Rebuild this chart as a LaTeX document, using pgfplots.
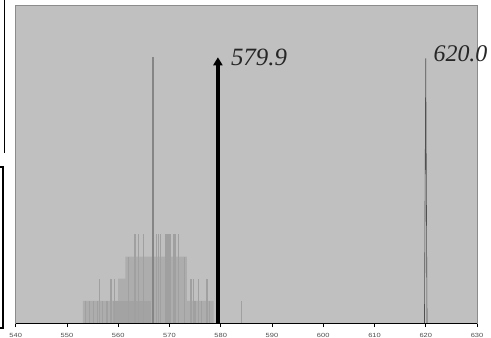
\documentclass[border=0pt]{standalone}
\usepackage{pgfplots}
\pgfplotsset{compat=1.18}
\usepackage{fontspec}
\setmainfont{Liberation Serif}
\newfontfamily\ticksans{Liberation Sans}
\usetikzlibrary{arrows.meta}
\definecolor{bgc}{HTML}{C0C0C0}
\definecolor{pyr}{HTML}{ADADAD}
\definecolor{pyrd}{HTML}{A3A3A3}
\definecolor{stk}{HTML}{A0A0A0}
\definecolor{frm}{HTML}{8C8C8C}
\begin{document}
\begin{tikzpicture}
\begin{axis}[
  at={(15.7bp,15bp)}, anchor=south west,
  scale only axis, width=461.3bp, height=318bp,
  xmin=540, xmax=630, ymin=0, ymax=14.36,
  xtick={540,550,...,630}, ytick=\empty,
  xtick pos=left, tick align=outside,
  major tick length=4bp,
  tick style={black, line width=0.6bp},
  axis line style={draw=frm, line width=0.8bp},
  axis background/.style={fill=bgc},
  xticklabel style={font=\ticksans\fontsize{6}{7}\selectfont, text=black!70, yshift=-2.5bp, xscale=1.25},
  /pgf/number format/assume math mode=true,
  clip=false,
]
% stepped pyramid
\addplot[fill=pyr, draw=none] coordinates {
  (553.1,0) (553.1,1) (560.0,1) (560.0,2) (561.4,2) (561.4,3)
  (573.4,3) (573.4,1) (578.6,1) (578.6,0)} -- cycle;
\addplot[fill=pyrd, draw=none] coordinates {
  (559.0,0) (559.0,1) (566.3,1) (566.3,0)} -- cycle;
% sticks
\addplot[ycomb, stk, line width=1.3bp, mark=none] coordinates {
  (563.3,4) (563.9,4) (564.9,4) (567.5,4) (567.9,4) (568.3,4)
  (569.3,4) (569.7,4) (570.1,4) (570.9,4) (571.2,4) (571.7,4)
  (556.3,2) (558.6,2) (559.3,2) (574.2,2) (574.7,2) (575.7,2) (577.3,2)
  (562.0,3) (572.9,3)
  (553.6,1) (554.4,1) (555.2,1) (556.0,1) (557.0,1) (557.8,1)
  (575.0,1) (576.3,1) (577.8,1) (584.0,1)};
% tall line
\addplot[color={rgb,255:red,133;green,133;blue,133}, line width=2bp] coordinates {(566.7,0) (566.7,12)};
% 620 peak
\addplot[color={rgb,255:red,80;green,80;blue,80}, line width=0.6bp] coordinates {(619.75,0) (620,11.95) (620.25,0)};
% arrow
\addplot[black, line width=4bp, -{Triangle[width=9bp,length=8bp]}] coordinates {(579.45,0) (579.45,12)};
\draw[black, line width=0.8bp] (axis cs:540,0) -- (axis cs:630,0);
\node[anchor=base west, inner sep=0pt, font=\itshape\fontsize{25}{28}\selectfont, text=black!85] at (axis cs:581.97,11.65) {579.9};
\node[anchor=base west, inner sep=0pt, font=\itshape\fontsize{24}{28}\selectfont, text=black!85] at (axis cs:621.5,11.8) {620.0};
\end{axis}
\draw[black, line width=1bp] (4.5bp,338bp) -- (4.5bp,185bp);
\draw[black, line width=2bp] (0bp,171bp) -- (3.3bp,171bp) -- (3.3bp,10bp) -- (0bp,10bp);
\pgfresetboundingbox
\path[use as bounding box] (0,0) rectangle (491bp,338bp);
\end{tikzpicture}
\end{document}
